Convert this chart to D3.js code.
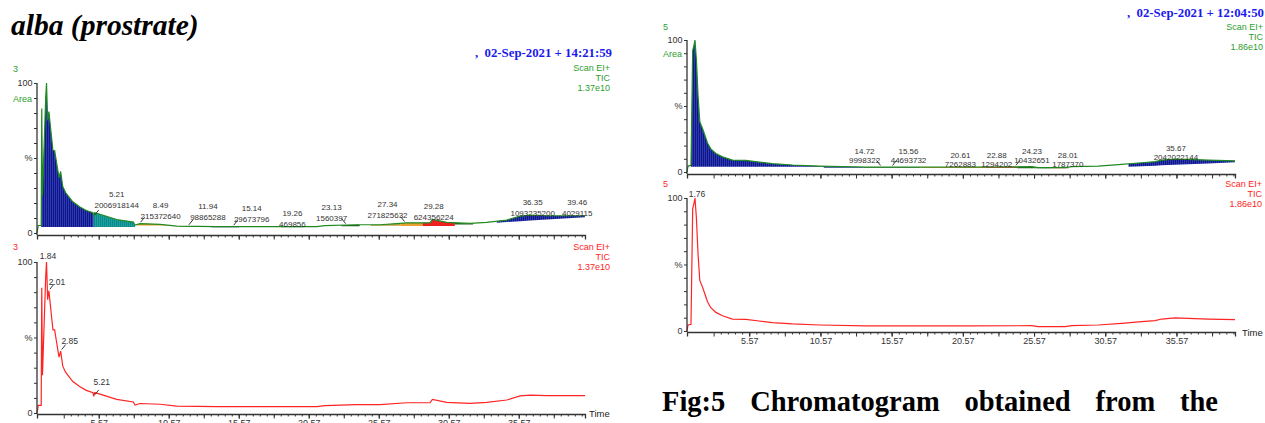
<!DOCTYPE html>
<html>
<head>
<meta charset="utf-8">
<script src="https://cdn.jsdelivr.net/npm/d3@7.9.0/dist/d3.min.js"></script>
<style>
  body { margin: 0; background: #fff; }
  svg { display: block; }
  .tick text { font-family: "Liberation Sans", Arial, sans-serif; }
</style>
</head>
<body>
<svg id="chart" width="1265" height="423"></svg>
<script>
// ---- data ----
// sample 3 (left): TIC trace, retention time (min) and relative intensity (%)
const leftTime = [1.16, 1.25, 1.46, 1.50, 1.55, 1.78, 1.84, 1.92, 2.01, 2.12, 2.30, 2.42, 2.54, 2.73, 2.85, 3.00,
  3.20, 3.70, 4.20, 4.68, 5.16, 5.21, 5.28, 5.66, 6.85, 8.04, 8.16, 8.52, 9.95, 11.14, 14.00, 21.14, 21.73,
  24.00, 25.66, 27.57, 29.23, 29.40, 30.42, 32.09, 33.28, 34.71, 35.66, 36.38, 37.57, 40.30];
const leftPct = [0, 5, 5, 83, 25, 90, 100, 75, 81, 71, 55, 55, 48, 37, 41, 31,
  27, 21, 17.5, 15, 13.5, 11, 13.5, 12.5, 9, 7.3, 5.3, 6.3, 5.8, 4.6, 4.2, 4.2, 4.9,
  5.5, 5.5, 6.8, 6.8, 9, 7.1, 6.4, 7.1, 8.6, 11.3, 11.9, 11.5, 11.5];

// sample 5 (right): TIC trace
const rightTime = [1.20, 1.27, 1.48, 1.60, 1.69, 1.76, 1.86, 1.98, 2.10, 2.29, 2.45, 2.64, 2.87, 3.23, 3.69,
  4.39, 5.33, 6.27, 7.20, 8.61, 10.48, 13.76, 21.0, 25.4, 25.87, 27.75, 28.2, 30.08, 31.72, 33.13, 34.07,
  34.53, 35.47, 36.4, 37.8, 39.68];
const rightPct = [0, 4.5, 5, 92, 96, 100, 85, 57, 38, 33, 28, 22, 17.5, 14, 11.5,
  9, 8.8, 7.5, 6.3, 5.3, 4.5, 3.8, 3.8, 4, 3.3, 3.3, 4, 4.5, 5.8, 7, 7.8,
  9, 9.8, 9.5, 9, 8.5];

// integrated peaks (top panels)
const leftPeakTimes = ['5.21', '8.49', '11.94', '15.14', '19.26', '23.13', '27.34', '29.28', '36.35', '39.46'];
const leftPeakAreas = ['2006918144', '215372640', '98865288', '29673796', '469856', '1560397', '271825632',
  '624356224', '1093235200', '4029115'];
const rightPeakTimes = ['14.72', '15.56', '20.61', '22.88', '24.23', '28.01', '35.67'];
const rightPeakAreas = ['9998322', '44693732', '7262883', '1294202', '10432651', '1787370', '2042022144'];

// labelled peaks (bottom panels)
const leftTicPeaks = ['1.84', '2.01', '2.85', '5.21'];
const rightTicPeaks = ['1.76'];

// integration windows [start, end] and baseline [%, %] of the coloured areas
const leftRegions = [[1.46, 5.21], [5.21, 8.16], [8.3, 10.8], [11.3, 11.7], [11.8, 13.6], [13.6, 15.6],
  [18.6, 20.2], [22.9, 24.2], [25.0, 27.1], [27.1, 28.7], [28.7, 31.0], [31.0, 32.3], [34.0, 40.3]];
const leftRegionBase = [[4, 4], [4, 4], [5, 5], [4.2, 4.2], [4, 4], [3.9, 3.9], [3.9, 3.9], [4.5, 4.5],
  [4.8, 4.8], [4.6, 4.6], [4.6, 4.6], [5.6, 5.6], [6.9, 10.5]];
const rightRegions = [[1.48, 10.8], [10.8, 13.6], [13.6, 17.6], [17.6, 22.2], [22.2, 24.4], [24.4, 26.8],
  [26.8, 28.0], [32.2, 39.68]];
const rightRegionBase = [[4, 4], [3.3, 3.3], [3.2, 3.2], [3.0, 3.0], [3.0, 3.0], [2.8, 2.8], [2.8, 2.8], [4, 7.3]];

const xTickLabels = [5.57, 10.57, 15.57, 20.57, 25.57, 30.57, 35.57];

// ---- styles / layout ----
const leftRegionColor = ['url(#navy)', 'url(#teal)', '#e09a20', '#e82020', '#1b5e1b', '#1a237e', '#1b5e1b',
  '#1b5e1b', '#b8a040', '#e8a030', '#f02020', '#1b5e1b', 'url(#navy)'];
const rightRegionColor = ['url(#navy)', '#1f3a86', '#1b5e1b', '#b08a30', '#d84030', '#1b5e1b', '#e03030', 'url(#navy)'];

// [dx from peak, baseline of area line above y(0), leader direction]
const leftPeakLayout = [[23, 25.5, 1], [21, 14.5, 1], [20, 13.5, 1], [19, 11.5, 1], [2, 6.5, 0], [-13, 12.5, -1],
  [-16, 15.5, -1], [3, 13.5, 0], [3, 17.5, 0], [4, 17.5, 0]];
const rightPeakLayout = [[-15, 9.5, -1], [17, 9.5, 1], [-3, 5.5, 0], [1, 5.5, 0], [17, 9.5, 1], [-1, 5.5, 0],
  [-2, 12.5, 0]];
const leftTicLayout = [[1.5, 154.5, 0], [8, 128, 1], [9, 69.5, 1], [8, 28, 1]];
const rightTicLayout = [[2, 134.5, 0]];

const GREEN = '#2e9e2e', RED = '#ff2424', AXIS = '#333';
const SANS = '"Liberation Sans", Arial, sans-serif';
const SERIF = '"Liberation Serif", "Times New Roman", serif';

const svg = d3.select('#chart');

const defs = svg.append('defs');
function hatch(id, base, line) {
  const p = defs.append('pattern').attr('id', id).attr('width', 2).attr('height', 8)
    .attr('patternUnits', 'userSpaceOnUse');
  p.append('rect').attr('width', 2).attr('height', 8).attr('fill', base);
  p.append('rect').attr('width', 1).attr('height', 8).attr('fill', line);
}
hatch('navy', '#13138a', '#2b3cb0');
hatch('teal', '#1aa3a3', '#128787');

function traceAt(ts, ps, t) {
  const i = d3.bisectRight(ts, t);
  if (i <= 0) return ps[0];
  if (i >= ts.length) return ps[ps.length - 1];
  const f = (t - ts[i - 1]) / (ts[i] - ts[i - 1]);
  return ps[i - 1] + f * (ps[i] - ps[i - 1]);
}

function addText(g, x, y, txt, opts = {}) {
  return g.append('text').attr('x', x).attr('y', y).text(txt)
    .attr('font-family', opts.family || SANS)
    .attr('font-size', opts.size || 9)
    .attr('font-weight', opts.weight || 'normal')
    .attr('font-style', opts.style || 'normal')
    .attr('text-anchor', opts.anchor || 'start')
    .attr('fill', opts.fill || '#222');
}

function drawXAxis(x, yPos, withLabels) {
  const [d0, d1] = x.domain();
  const g = svg.append('g').attr('transform', `translate(0,${yPos})`);
  const minor = d3.range(xTickLabels[0] - 4 * 0.5, d1, 0.5).filter((t) => t >= d0);
  const major = d3.range(xTickLabels[0] - 2.5, d1, 2.5).filter((t) => t >= d0);
  g.append('g').call(d3.axisBottom(x).tickValues(minor).tickSize(2.5).tickFormat(''));
  g.append('g').call(d3.axisBottom(x).tickValues(major).tickSize(4.5).tickFormat(''));
  const lab = g.append('g').call(d3.axisBottom(x).tickValues(xTickLabels).tickSize(4.5).tickPadding(1.5)
    .tickFormat(withLabels ? d3.format('.2f') : ''));
  g.selectAll('.domain').attr('stroke', AXIS).attr('stroke-width', 1.3);
  g.selectAll('.tick line').attr('stroke', AXIS);
  lab.selectAll('text').attr('font-size', 9).attr('fill', '#333');
  g.selectAll('g:not(:last-child) .domain').remove();
  return g;
}

function drawYAxis(y, xPos, axisY) {
  const g = svg.append('g').attr('transform', `translate(${xPos},0)`);
  g.call(d3.axisLeft(y).tickValues(d3.range(0, 101, 10)).tickSize(3).tickPadding(1.5)
    .tickFormat((d) => (d === 100 ? '100' : d === 50 ? '%' : d === 0 ? '0' : '')));
  g.select('.domain').remove();
  g.append('line').attr('y1', y(100)).attr('y2', axisY).attr('stroke', AXIS).attr('stroke-width', 1.3);
  g.selectAll('.tick line').attr('stroke', AXIS);
  g.selectAll('.tick text').attr('font-size', 9).attr('fill', '#333');
}

function drawTop(p) {
  const { x, y, ts, ps, regions, bases, colors } = p;
  const g = svg.append('g');
  regions.forEach(([t0, t1], i) => {
    const [b0, b1] = bases[i];
    const pts = [[t0, traceAt(ts, ps, t0)]]
      .concat(ts.map((t, j) => [t, ps[j]]).filter((d) => d[0] > t0 && d[0] < t1))
      .concat([[t1, traceAt(ts, ps, t1)]]);
    const base = (t) => b0 + (b1 - b0) * (t - t0) / (t1 - t0);
    g.append('path').datum(pts)
      .attr('d', d3.area().x((d) => x(d[0])).y0((d) => y(Math.min(base(d[0]), d[1]))).y1((d) => y(d[1])))
      .attr('fill', colors[i]);
  });
  g.append('path').datum(ts.map((t, j) => [t, ps[j]]))
    .attr('d', d3.line().x((d) => x(d[0])).y((d) => y(d[1])))
    .attr('fill', 'none').attr('stroke', '#1f8a1f').attr('stroke-width', 1.2);
}

function drawBottom(p) {
  const { x, y, ts, ps } = p;
  svg.append('path').datum(ts.map((t, j) => [t, ps[j]]))
    .attr('d', d3.line().x((d) => x(d[0])).y((d) => y(d[1])))
    .attr('fill', 'none').attr('stroke', RED).attr('stroke-width', 1.2);
}

function drawLabels(p, times, areas, layout, gap) {
  const { x, y, ts, ps } = p;
  const g = svg.append('g');
  times.forEach((tl, i) => {
    const t = +tl;
    const [dx, lift, dir] = layout[i];
    const xp = x(t), yt = y(traceAt(ts, ps, t));
    const yb = y(0) - lift;
    if (areas) {
      addText(g, xp + dx, yb - gap, tl, { size: 8, anchor: 'middle', fill: '#333' });
      addText(g, xp + dx, yb, areas[i], { size: 8, anchor: 'middle', fill: '#333' });
    } else {
      addText(g, xp + dx, yb, tl, { size: 8.5, anchor: 'middle', fill: '#333' });
    }
    if (dir !== 0) {
      g.append('line').attr('x1', xp + 1).attr('y1', yt - 1.5)
        .attr('x2', xp + 1 + 4 * dir).attr('y2', yt - 6.5)
        .attr('stroke', '#222').attr('stroke-width', 0.9);
    }
  });
}

// ---- scales ----
const xLeft = d3.scaleLinear().domain([1.16, 40.3]).range([37, 585]);
const xRight = d3.scaleLinear().domain([1.2, 39.68]).range([687, 1235]);
const yLT = d3.scaleLinear().domain([0, 100]).range([233, 83]);
const yLB = d3.scaleLinear().domain([0, 100]).range([413, 262]);
const yRT = d3.scaleLinear().domain([0, 100]).range([172, 40]);
const yRB = d3.scaleLinear().domain([0, 100]).range([331, 198]);

const LT = { x: xLeft, y: yLT, ts: leftTime, ps: leftPct, regions: leftRegions, bases: leftRegionBase, colors: leftRegionColor };
const LB = { x: xLeft, y: yLB, ts: leftTime, ps: leftPct };
const RT = { x: xRight, y: yRT, ts: rightTime, ps: rightPct, regions: rightRegions, bases: rightRegionBase, colors: rightRegionColor };
const RB = { x: xRight, y: yRB, ts: rightTime, ps: rightPct };

drawTop(LT);
drawTop(RT);
drawBottom(LB);
drawBottom(RB);

drawXAxis(xLeft, 235, false);
drawXAxis(xLeft, 414, true);
drawXAxis(xRight, 174, false);
drawXAxis(xRight, 332, true);
drawYAxis(yLT, 37, 235);
drawYAxis(yLB, 37, 414);
drawYAxis(yRT, 687, 174);
drawYAxis(yRB, 687, 332);

drawLabels(LT, leftPeakTimes, leftPeakAreas, leftPeakLayout, 10.5);
drawLabels(RT, rightPeakTimes, rightPeakAreas, rightPeakLayout, 8.5);
drawLabels(LB, leftTicPeaks, null, leftTicLayout, 0);
drawLabels(RB, rightTicPeaks, null, rightTicLayout, 0);

// ---- header texts ----
const T = svg.append('g');
addText(T, 11, 35, 'alba (prostrate)', { family: SERIF, size: 29.5, weight: 'bold', style: 'italic', fill: '#000' });
addText(T, 612, 57, ',  02-Sep-2021 + 14:21:59', { family: SERIF, size: 12.8, weight: 'bold', anchor: 'end', fill: '#1a1aee' })
  .attr('xml:space', 'preserve');
addText(T, 1264, 17, ',  02-Sep-2021 + 12:04:50', { family: SERIF, size: 12.8, weight: 'bold', anchor: 'end', fill: '#1a1aee' })
  .attr('xml:space', 'preserve');

[[610, 71, GREEN, '1.37e10'], [610, 249.5, RED, '1.37e10'], [1263, 29.5, GREEN, '1.86e10'], [1262, 186.5, RED, '1.86e10']]
  .forEach(([xr, yb, c, v]) => {
    addText(T, xr, yb, 'Scan EI+', { size: 9, anchor: 'end', fill: c });
    addText(T, xr, yb + 10, 'TIC', { size: 9, anchor: 'end', fill: c });
    addText(T, xr, yb + 20, v, { size: 9, anchor: 'end', fill: c });
  });

addText(T, 13, 71.5, '3', { size: 9, fill: GREEN });
addText(T, 13, 101.5, 'Area', { size: 9, fill: GREEN });
addText(T, 13, 249.5, '3', { size: 9, fill: RED });
addText(T, 663, 29.5, '5', { size: 9, fill: GREEN });
addText(T, 663, 56.5, 'Area', { size: 9, fill: GREEN });
addText(T, 663, 187, '5', { size: 9, fill: RED });
addText(T, 589, 417, 'Time', { size: 9.5, fill: '#222' });
addText(T, 1242, 335.5, 'Time', { size: 9.5, fill: '#222' });

// justified caption
const words = ['Fig:5', 'Chromatogram', 'obtained', 'from', 'the'];
const capL = 662, capR = 1218;
const wNodes = words.map((w) => addText(T, 0, 411, w, { family: SERIF, size: 28.5, weight: 'bold', fill: '#000' }));
const widths = wNodes.map((n) => n.node().getComputedTextLength());
const gapW = (capR - capL - d3.sum(widths)) / (words.length - 1);
let cx = capL;
wNodes.forEach((n, i) => { n.attr('x', cx); cx += widths[i] + gapW; });
</script>
</body>
</html>
